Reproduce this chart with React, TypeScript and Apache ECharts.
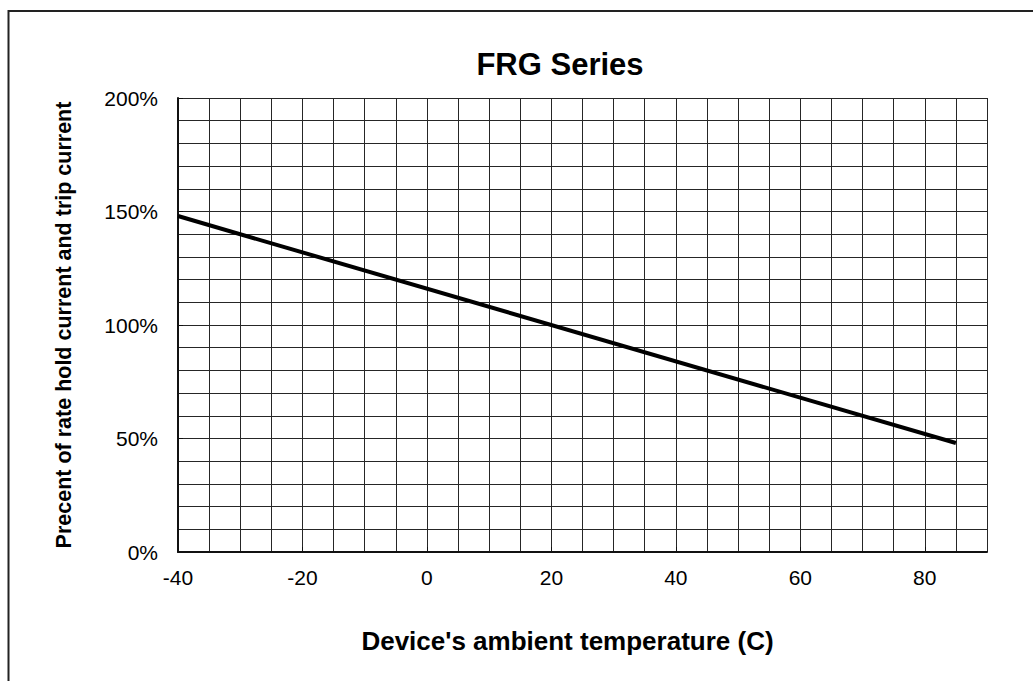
import React, { useEffect, useRef } from "react";
import * as echarts from "echarts";

const temperature = [-40, 85];
const percent = [148, 48];
const xLabels = ["-40", "-20", "0", "20", "40", "60", "80"];
const yLabels = ["0%", "50%", "100%", "150%", "200%"];

export default function App() {
  const ref = useRef<HTMLDivElement>(null);
  useEffect(() => {
    if (!ref.current) return;
    const chart = echarts.init(ref.current, null, { renderer: "svg" });
    const font = "'Liberation Sans', Arial, sans-serif";
    const gridColor = "#262626";
    chart.setOption({
      animation: false,
      backgroundColor: "#fff",
      title: {
        text: "FRG Series",
        left: 555,
        textAlign: "center",
        top: 44,
        textStyle: { fontFamily: font, fontSize: 31, fontWeight: "bold", color: "#000" },
      },
      graphic: [
        {
          type: "rect",
          shape: { x: 8.5, y: 11, width: 1100, height: 800 },
          style: { fill: "none", stroke: "#222", lineWidth: 2 },
          silent: true,
        },
      ],
      grid: { left: 178, top: 98, right: 46, bottom: 129, containLabel: false },
      xAxis: [
        {
          type: "value",
          min: -40,
          max: 90,
          interval: 20,
          name: "Device's ambient temperature (C)",
          nameLocation: "middle",
          nameGap: 76,
          nameTextStyle: { fontFamily: font, fontSize: 26, fontWeight: "bold", color: "#000", padding: [0, 30, 0, 0] },
          axisLine: { show: true, onZero: false, lineStyle: { color: "#111", width: 2 } },
          axisTick: { show: true, inside: true, length: 5, lineStyle: { color: "#111", width: 1 } },
          axisLabel: {
            showMaxLabel: false,
            margin: 15,
            fontFamily: font,
            fontSize: 21,
            color: "#000",
            formatter: (v: number) => {
              const i = xLabels.indexOf(String(v));
              return i >= 0 ? xLabels[i] : "";
            },
          },
          splitLine: { show: false },
          z: 5,
        },
        {
          type: "value",
          min: -40,
          max: 90,
          interval: 5,
          position: "bottom",
          axisLine: { show: false },
          axisTick: { show: false },
          axisLabel: { show: false },
          splitLine: { show: true, lineStyle: { color: gridColor, width: 1 } },
        },
      ],
      yAxis: {
        type: "value",
        min: 0,
        max: 200,
        interval: 50,
        name: "Precent of rate hold current and trip current",
        nameLocation: "middle",
        nameGap: 103,
        nameTextStyle: { fontFamily: font, fontSize: 21.5, fontWeight: "bold", color: "#000" },
        axisLine: { show: true, onZero: false, lineStyle: { color: "#111", width: 2 } },
        axisTick: { show: true, inside: true, length: 5, lineStyle: { color: "#111", width: 1 } },
        axisLabel: {
          margin: 20,
          fontFamily: font,
          fontSize: 21,
          color: "#000",
          formatter: (v: number) => yLabels[Math.round(v / 50)] ?? "",
        },
        splitLine: { show: true, lineStyle: { color: gridColor, width: 1 } },
        minorTick: { show: false, splitNumber: 5 },
        minorSplitLine: { show: true, lineStyle: { color: gridColor, width: 1 } },
      },
      series: [
        {
          type: "line",
          xAxisIndex: 0,
          data: temperature.map((t, i) => [t, percent[i]]),
          symbol: "none",
          lineStyle: { color: "#000", width: 4 },
          z: 10,
        },
      ],
    });
    return () => chart.dispose();
  }, []);
  return (
    <div
      ref={ref}
      style={{ position: "fixed", left: 0, top: 0, width: 1033, height: 681, background: "#fff" }}
    />
  );
}
